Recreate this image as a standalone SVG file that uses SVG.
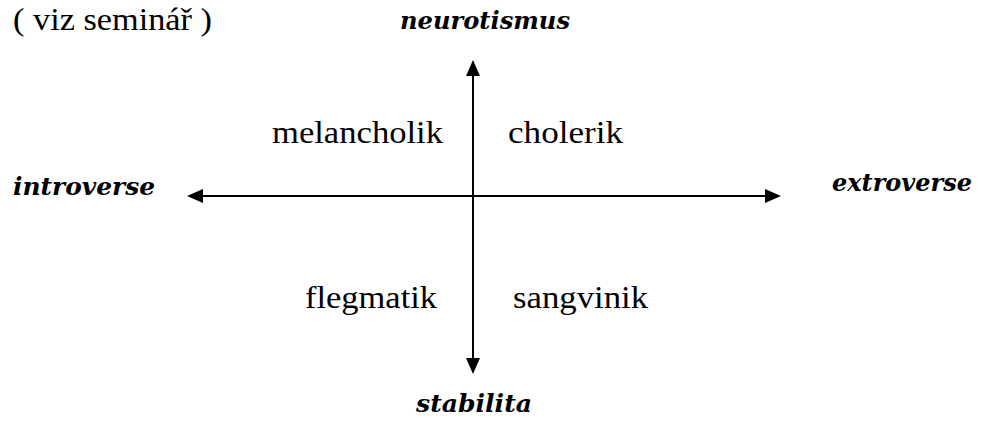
<svg xmlns="http://www.w3.org/2000/svg" width="981" height="423" viewBox="0 0 981 423">
  <style>
    .t { font-family: "Liberation Serif", "DejaVu Serif", serif; font-size: 31px; fill: #000; }
    .b { font-family: "DejaVu Serif", "Liberation Serif", serif; font-size: 25px; font-weight: bold; font-style: italic; }
    .ax { stroke: #000; stroke-width: 2; fill: none; }
  </style>
  <defs>
    <marker id="ah" viewBox="0 0 16 14" refX="6" refY="7" markerWidth="16" markerHeight="14" markerUnits="userSpaceOnUse" orient="auto-start-reverse">
      <path d="M0,0 L16,7 L0,14 z" fill="#000"/>
    </marker>
  </defs>
  <rect width="981" height="423" fill="#fff"/>
  <g id="connectors">
    <line class="ax" x1="473" y1="70" x2="473" y2="364" marker-start="url(#ah)" marker-end="url(#ah)"/>
    <line class="ax" x1="197" y1="196" x2="771" y2="196" marker-start="url(#ah)" marker-end="url(#ah)"/>
  </g>
  <g id="note"><text class="t" x="13" y="30" textLength="199" lengthAdjust="spacingAndGlyphs">( viz seminář )</text></g>
  <g id="neurotismus"><text class="t b" x="400" y="29" textLength="170" lengthAdjust="spacingAndGlyphs">neurotismus</text></g>
  <g id="melancholik"><text class="t" x="272" y="143" textLength="171" lengthAdjust="spacingAndGlyphs">melancholik</text></g>
  <g id="cholerik"><text class="t" x="508" y="143" textLength="115" lengthAdjust="spacingAndGlyphs">cholerik</text></g>
  <g id="introverse"><text class="t b" x="13" y="195" textLength="142" lengthAdjust="spacingAndGlyphs">introverse</text></g>
  <g id="extroverse"><text class="t b" x="832" y="191" textLength="140" lengthAdjust="spacingAndGlyphs">extroverse</text></g>
  <g id="flegmatik"><text class="t" x="305" y="308" textLength="132" lengthAdjust="spacingAndGlyphs">flegmatik</text></g>
  <g id="sangvinik"><text class="t" x="513" y="308" textLength="135" lengthAdjust="spacingAndGlyphs">sangvinik</text></g>
  <g id="stabilita"><text class="t b" x="416" y="412" textLength="116" lengthAdjust="spacingAndGlyphs">stabilita</text></g>
</svg>
